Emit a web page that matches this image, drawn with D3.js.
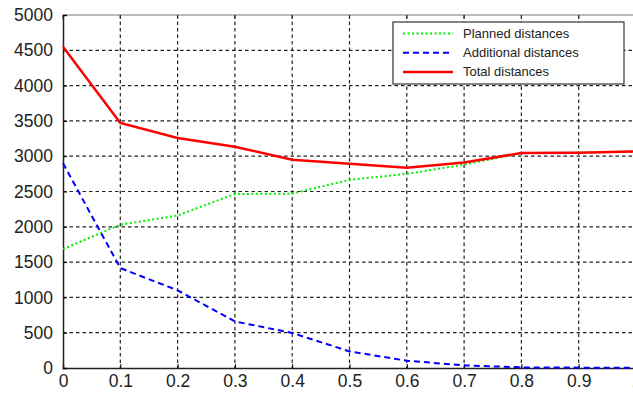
<!DOCTYPE html>
<html>
<head>
<meta charset="utf-8">
<script src="https://cdn.jsdelivr.net/npm/d3@7"></script>
<style>
  body { margin: 0; background: #fff; }
  text { font-family: "Liberation Sans", Arial, sans-serif; fill: #222; }
</style>
</head>
<body>
<div id="chart"></div>
<script>
const xValues = [0, 0.1, 0.2, 0.3, 0.4, 0.5, 0.6, 0.7, 0.8, 0.9, 1.0];
const planned = [1685, 2030, 2160, 2465, 2470, 2665, 2750, 2880, 3045, 3050, 3068];
const additional = [2900, 1415, 1100, 660, 496, 235, 103, 37, 9, 5, 3];
const total = [4550, 3470, 3258, 3135, 2950, 2894, 2837, 2912, 3045, 3050, 3068];
const xTicks = [0, 0.1, 0.2, 0.3, 0.4, 0.5, 0.6, 0.7, 0.8, 0.9, 1];
const yTicks = [0, 500, 1000, 1500, 2000, 2500, 3000, 3500, 4000, 4500, 5000];

const series = [
  { name: "Planned distances", values: planned, color: "#00ee00", dash: "2,2.5", width: 2 },
  { name: "Additional distances", values: additional, color: "#0000ff", dash: "6,4", width: 2 },
  { name: "Total distances", values: total, color: "#ff0000", dash: null, width: 2.5 }
];

const W = 633, H = 394;
const margin = { top: 15, left: 63 };
const plotW = 573, plotH = 353;

const svg = d3.select("#chart").append("svg")
  .attr("width", W).attr("height", H);

const g = svg.append("g")
  .attr("transform", `translate(${margin.left},${margin.top})`);

const x = d3.scaleLinear().domain([0, 1]).range([0, plotW]);
const y = d3.scaleLinear().domain([0, 5000]).range([plotH, 0]);

// grid
g.append("g")
  .selectAll("line")
  .data(xTicks.slice(1))
  .enter().append("line")
  .attr("x1", d => x(d)).attr("x2", d => x(d))
  .attr("y1", 0).attr("y2", plotH)
  .attr("stroke", "#222").attr("stroke-width", 1.2)
  .attr("stroke-dasharray", "3.5,3");

g.append("g")
  .selectAll("line")
  .data(yTicks.slice(1, -1))
  .enter().append("line")
  .attr("x1", 0).attr("x2", plotW)
  .attr("y1", d => y(d)).attr("y2", d => y(d))
  .attr("stroke", "#222").attr("stroke-width", 1.2)
  .attr("stroke-dasharray", "3.5,3");

// top border
g.append("line")
  .attr("x1", 0).attr("x2", plotW).attr("y1", 0).attr("y2", 0)
  .attr("stroke", "#777").attr("stroke-width", 1.2);

// axes
const xAxis = g.append("g")
  .attr("transform", `translate(0,${plotH})`)
  .call(d3.axisBottom(x).tickValues(xTicks).tickSize(-4).tickPadding(7)
    .tickFormat(d => d === 0 ? "0" : d === 1 ? "1" : d3.format(".1f")(d)));
xAxis.select(".domain").attr("stroke", "#222").attr("stroke-width", 1.5);

const yAxis = g.append("g")
  .call(d3.axisLeft(y).tickValues(yTicks).tickSize(-4).tickPadding(10)
    .tickFormat(d3.format("d")));
yAxis.select(".domain").attr("stroke", "#222").attr("stroke-width", 1.5);

// ticks along top
g.append("g")
  .selectAll("line")
  .data(xTicks)
  .enter().append("line")
  .attr("x1", d => x(d)).attr("x2", d => x(d))
  .attr("y1", 0).attr("y2", 4)
  .attr("stroke", "#222");

svg.selectAll(".tick text")
  .style("font-size", "17.5px")
  .style("font-family", "'Liberation Sans', Arial, sans-serif")
  .attr("fill", "#222");

// lines
const line = d3.line()
  .x((d, i) => x(xValues[i]))
  .y(d => y(d));

series.forEach(s => {
  g.append("path")
    .datum(s.values)
    .attr("fill", "none")
    .attr("stroke", s.color)
    .attr("stroke-width", s.width)
    .attr("stroke-dasharray", s.dash)
    .attr("d", line);
});

// legend
const legend = svg.append("g").attr("transform", "translate(393,22)");
legend.append("rect")
  .attr("width", 231).attr("height", 62)
  .attr("fill", "#fff").attr("stroke", "#333").attr("stroke-width", 1.2);

series.forEach((s, i) => {
  const ly = 11.5 + i * 19.2;
  legend.append("line")
    .attr("x1", 10).attr("x2", 60)
    .attr("y1", ly).attr("y2", ly)
    .attr("stroke", s.color)
    .attr("stroke-width", s.width)
    .attr("stroke-dasharray", s.dash);
  legend.append("text")
    .attr("x", 70).attr("y", ly)
    .attr("dy", "0.35em")
    .style("font-size", "13px")
    .text(s.name);
});
</script>
</body>
</html>
